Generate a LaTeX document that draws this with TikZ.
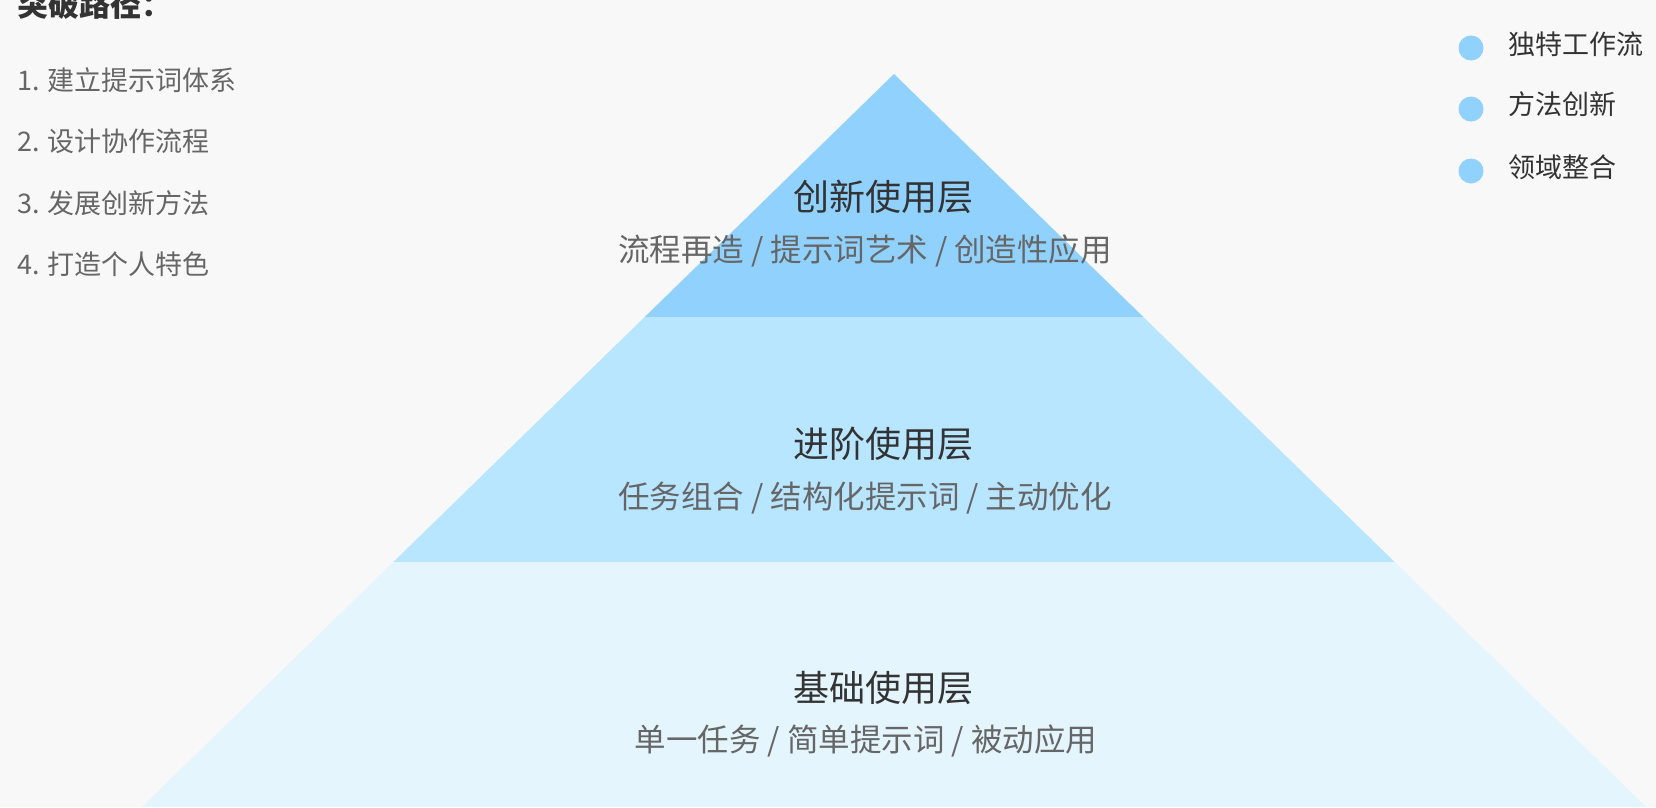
\documentclass[tikz,border=0pt]{standalone}
\usepackage{fontspec}
\setmainfont{Noto Sans CJK SC}
\usetikzlibrary{positioning}

\definecolor{pageBg}{HTML}{F8F8F8}
\definecolor{topBlue}{HTML}{90D1FE}
\definecolor{midBlue}{HTML}{B8E5FF}
\definecolor{baseBlue}{HTML}{E4F5FE}
\definecolor{textDark}{HTML}{333333}
\definecolor{textGray}{HTML}{666666}

\begin{document}
\begin{tikzpicture}[x=1pt, y=-1pt,
layertitle/.style={inner sep=0pt, font=\fontsize{36}{40}\selectfont, text=textDark},
layersub/.style={inner sep=0pt, font=\fontsize{31.5}{36}\selectfont, text=textGray},
heading/.style={inner sep=0pt, anchor=west, font=\fontsize{31}{36}\selectfont\bfseries, text=textDark},
pathitem/.style={inner sep=0pt, font=\fontsize{27}{32}\selectfont, text=textGray},
dot/.style={circle, inner sep=0pt, minimum size=25pt, fill=topBlue},
legendtext/.style={inner sep=0pt, font=\fontsize{27}{32}\selectfont, text=textDark}
]
% page
\fill[pageBg] (0,0) rectangle (1656,807);
\useasboundingbox (0,0) rectangle (1656,807);

% pyramid layers: top y / bottom y / colour
\foreach \ya/\yb/\col in {74/317/topBlue, 317/562/midBlue, 562/807/baseBlue}
  \fill[\col] ({894-1.026*(\ya-74)},\ya) -- ({894+1.026*(\ya-74)},\ya)
    -- ({894+1.026*(\yb-74)},\yb) -- ({894-1.026*(\yb-74)},\yb) -- cycle;

% layer labels
\node[layertitle] (innov) at (883,197) {创新使用层};
\node[layersub, below=21pt of innov, xshift=-18pt] (innovsub) {流程再造 / 提示词艺术 / 创造性应用};
\node[layertitle] (adv) at (883,444) {进阶使用层};
\node[layersub, below=21pt of adv, xshift=-18pt] (advsub) {任务组合 / 结构化提示词 / 主动优化};
\node[layertitle] (basic) at (883,688) {基础使用层};
\node[layersub, below=20pt of basic, xshift=-17pt] (basicsub) {单一任务 / 简单提示词 / 被动应用};

% breakthrough path
\node[heading] (path) at (17,5) {突破路径：};
\node[pathitem, anchor=west] (p1) at (17,80) {1. 建立提示词体系};
\node[pathitem, below=36pt of p1.south west, anchor=north west] (p2) {2. 设计协作流程};
\node[pathitem, below=36pt of p2.south west, anchor=north west] (p3) {3. 发展创新方法};
\node[pathitem, below=36pt of p3.south west, anchor=north west] (p4) {4. 打造个人特色};

% legend
\node[dot] (d1) at (1471,48) {};
\node[dot] (d2) at (1471,109) {};
\node[dot] (d3) at (1471,171) {};
\node[legendtext, right=25pt of d1, yshift=4pt] (l1) {独特工作流};
\node[legendtext, right=25pt of d2, yshift=5pt] (l2) {方法创新};
\node[legendtext, right=25pt of d3, yshift=4pt] (l3) {领域整合};
\end{tikzpicture}
\end{document}
